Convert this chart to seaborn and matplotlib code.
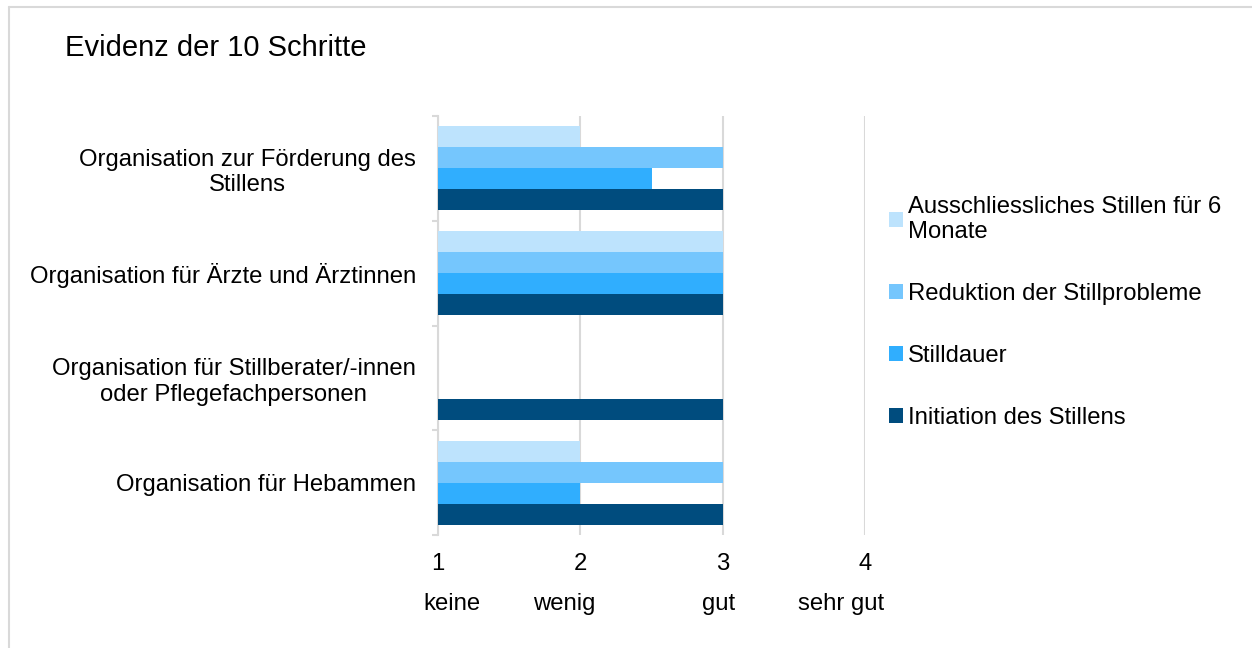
import pandas as pd
import numpy as np
import matplotlib
matplotlib.use("Agg")
import matplotlib.pyplot as plt
from matplotlib.lines import Line2D
import seaborn as sns

# ==========================================================
# DADOS
# ==========================================================
categorias = [
    "Organisation zur Förderung des\nStillens",
    "Organisation für Ärzte und Ärztinnen",
    "Organisation für Stillberater/-innen\noder Pflegefachpersonen",
    "Organisation für Hebammen",
]
series = [
    "Ausschliessliches Stillen für 6\nMonate",
    "Reduktion der Stillprobleme",
    "Stilldauer",
    "Initiation des Stillens",
]
ausschliesslich = [2, 3, np.nan, 2]
reduktion = [3, 3, np.nan, 3]
stilldauer = [2.5, 3, np.nan, 2]
initiation = [3, 3, 3, 3]

x_ticks = [1, 2, 3, 4]
stufen = ["keine", "wenig", "gut", "sehr gut"]
stufen_pos = [1.095, 1.886, 2.97, 3.83]

cores = ["#BDE3FD", "#75C6FD", "#30AEFE", "#004C7E"]
cinza = "#D9D9D9"

dados = pd.DataFrame({
    "categoria": categorias * 4,
    "serie": [s for s in series for _ in categorias],
    "valor": ausschliesslich + reduktion + stilldauer + initiation,
})

# ==========================================================
# FIGURA
# ==========================================================
sns.set_theme(style="white")
plt.rcParams["font.family"] = ["Liberation Sans", "DejaVu Sans"]
plt.rcParams["text.color"] = "black"
plt.rcParams["xtick.color"] = "black"
plt.rcParams["ytick.color"] = "black"

FS = 17.2
W, H = 1252, 648
fig = plt.figure(figsize=(W / 100, H / 100), dpi=100)
ax_left, ax_right, ax_top, ax_bottom = 438, 865, 116, 535
ax = fig.add_axes([ax_left / W, 1 - ax_bottom / H,
                   (ax_right - ax_left) / W, (ax_bottom - ax_top) / H])

sns.barplot(data=dados, y="categoria", x="valor", hue="serie",
            order=categorias, hue_order=series, palette=cores,
            orient="h", width=0.8, saturation=1, linewidth=0,
            ax=ax, zorder=3)

ax.set_xlim(1, 4)
ax.set_ylim(3.5, -0.5)
ax.set_xticks(x_ticks)
ax.set_xticklabels([str(t) for t in x_ticks])
ax.grid(axis="x", color=cinza, linewidth=1.5, zorder=0)
ax.grid(axis="y", visible=False)
ax.set_axisbelow(True)
ax.set_xlabel("")
ax.set_ylabel("")

for lado in ["top", "right", "bottom"]:
    ax.spines[lado].set_visible(False)
ax.spines["left"].set_color(cinza)
ax.spines["left"].set_linewidth(1.5)

ax.set_yticks(range(len(categorias)))
ax.set_yticklabels(categorias, multialignment="center")
ax.set_yticks(np.arange(-0.5, len(categorias), 1), minor=True)
ax.tick_params(axis="y", which="major", length=0, pad=16, labelsize=FS, labelcolor="black")
ax.tick_params(axis="y", which="minor", length=4.5, width=1.5, color=cinza, left=True)
ax.tick_params(axis="x", length=0, pad=13, labelsize=FS, labelcolor="black")

for txt, pos in zip(stufen, stufen_pos):
    ax.annotate(txt, xy=(pos, 0), xycoords=("data", "axes fraction"),
                xytext=(0, -50), textcoords="offset points",
                ha="center", va="center", fontsize=FS, color="black")

# legenda
handles, labels = ax.get_legend_handles_labels()
leg = ax.legend(handles, labels, loc="upper left",
                bbox_to_anchor=(889 / W, 1 - 196 / H), bbox_transform=fig.transFigure,
                frameon=False, fontsize=FS, borderpad=0, borderaxespad=0,
                handlelength=0.58, handleheight=0.58, handletextpad=0.2,
                labelspacing=1.67)
for t in leg.get_texts():
    t.set_color("black")

fig.text(65 / W, 1 - 48 / H, "Evidenz der 10 Schritte", fontsize=21,
         ha="left", va="center", color="black")

# moldura
fig.add_artist(Line2D([8.5 / W, 1], [1 - 6.5 / H, 1 - 6.5 / H], color=cinza, lw=1.5))
fig.add_artist(Line2D([8.5 / W, 8.5 / W], [0, 1 - 6.5 / H], color=cinza, lw=1.5))

fig.savefig("out.png", dpi=100)
plt.close(fig)
